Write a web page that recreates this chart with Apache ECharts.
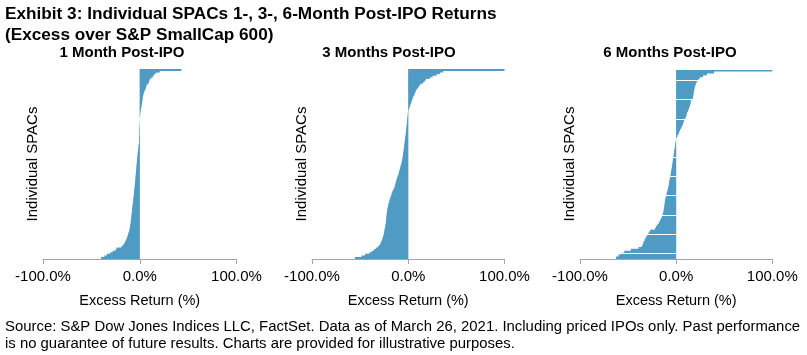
<!DOCTYPE html>
<html>
<head>
<meta charset="utf-8">
<script src="https://cdn.jsdelivr.net/npm/echarts@6/dist/echarts.min.js"></script>
<style>html,body{margin:0;padding:0;background:#fff}#c{width:807px;height:355px}</style>
</head>
<body>
<div id="c"></div>
<script>
// Sorted excess returns (%) per SPAC, ascending (bottom → top)
var oneMonth = [-40,-36.5,-34,-30.5,-28,-25,-24,-19,-17.5,-16.2,-15.2,-14.5,-13.8,-13.1,-12.6,-12.1,-11.6,-11,-10.6,-10.3,
-10,-9.8,-9.5,-9.3,-9.1,-8.9,-8.8,-8.6,-8.4,-8.2,-8.1,-7.9,-7.8,-7.5,-7.3,-7.1,-6.9,-6.7,-6.5,-6.3,
-6.2,-6,-5.8,-5.7,-5.5,-5.3,-5.2,-5,-4.9,-4.7,-4.6,-4.4,-4.3,-4.1,-4,-3.9,-3.7,-3.6,-3.4,-3.3,
-3.1,-3,-2.8,-2.7,-2.5,-2.3,-2.2,-2,-1.8,-1.6,-1.4,-1.3,-1.1,-0.9,-0.8,-0.7,-0.7,-0.6,-0.6,-0.5,
-0.5,-0.5,-0.4,-0.4,-0.3,-0.3,-0.2,-0.1,0,0.1,0.2,0.3,0.5,0.7,1,1.2,1.5,1.8,2.1,2.3,
2.6,2.8,3,3.2,3.6,4.1,4.5,5.2,5.9,6.4,6.9,8,9.3,9.8,10.3,12,13.5,14.8,16.5,20.7,43];
var threeMonths = [-55.5,-48.5,-45,-40.5,-38,-35.5,-33.5,-31.5,-30,-29,-28.2,-27.6,-27,-26.5,-26,-25.4,-25.1,-24.9,-24.6,-24.3,
-24,-23.6,-23.4,-23.2,-23,-22.9,-22.7,-22.5,-22.4,-22.2,-22,-21.7,-21.4,-21,-20.7,-20.3,-19.8,-19.3,-18.8,-18.2,
-17.6,-17.2,-16.6,-15.8,-15,-14.3,-13.8,-13.4,-13,-12.5,-12.1,-11.6,-11,-10.3,-9.8,-9.4,-9,-8.5,-8.1,-7.7,
-7.2,-6.8,-6.4,-6.1,-5.8,-5.6,-5.4,-5.2,-5,-4.7,-4.5,-4.3,-4.1,-3.9,-3.7,-3.5,-3.3,-3.1,-2.8,-2.6,
-2.4,-2.2,-2.1,-1.9,-1.7,-1.6,-1.4,-1.2,-1,-0.9,-0.8,-0.6,-0.5,-0.3,0.3,0.7,1.2,1.7,2.3,2.9,
3.5,4,4.6,5.2,5.9,6.9,7.4,8,9.2,10.4,11.5,12.8,15.6,17,18.3,22.5,25.3,29.4,32.9,36.3,120];
var sixMonths = [-62.5,-60,-57.6,-54,-47,-39,-35.5,-34.5,-34,-33,-32,-31,-29.5,-28.5,-27,-22,-21,-19.5,-18,-17,
-16,-15,-14.2,-13.8,-13.3,-12.9,-12.5,-12.3,-12,-11.8,-11.5,-11,-10.4,-10,-9.7,-9,-8.5,-8,-7.6,-7.3,
-7,-6.6,-6.2,-5.8,-5.5,-5.2,-4.8,-4.5,-4.2,-3.9,-3.6,-3.4,-3,-2.7,-2.4,-2.1,-1.8,-1.5,-1.2,-0.9,
-0.6,-0.3,0.3,0.8,1.4,2.6,3.3,4.2,5.2,6.2,7,7.7,8.3,9.4,10.4,10.9,11.5,12.4,13.2,13.9,
14.5,15,15.3,17.2,17.5,17.8,18.2,18.5,18.8,19.3,19.8,20.5,21.5,23,24.5,28,32,39.5,120];
var panelTitles = ['1 Month Post-IPO', '3 Months Post-IPO', '6 Months Post-IPO'];
var xTicks = [-100, 0, 100];

var FONT = "'Liberation Sans', Arial, Helvetica, sans-serif";
var BAR = '#4f9bc4';
var AX = '#a6a6a6';
var series = [oneMonth, threeMonths, sixMonths];
var grids = [
  {left: 43, top: 69, width: 193.5, height: 190},
  {left: 312, top: 69, width: 192.5, height: 190},
  {left: 580, top: 69, width: 192.3, height: 190}
];
var titleX = [122, 389, 670];

var chart = echarts.init(document.getElementById('c'), null, {renderer: 'canvas'});
var option = {
  animation: false,
  backgroundColor: '#fff',
  grid: grids,
  xAxis: grids.map(function (g, i) {
    return {
      gridIndex: i, type: 'value', min: xTicks[0], max: xTicks[2], interval: 100,
      name: 'Excess Return (%)', nameLocation: 'middle', nameGap: 34,
      nameTextStyle: {fontFamily: FONT, fontSize: 14.5, color: '#000'},
      axisLine: {show: true, lineStyle: {color: AX, width: 1}},
      axisTick: {show: true, length: 5, lineStyle: {color: AX}},
      splitLine: {show: false},
      axisLabel: {fontFamily: FONT, fontSize: 15, color: '#000', margin: 10,
        formatter: function (v) { return v.toFixed(1) + '%'; }},
      z: 4
    };
  }),
  yAxis: grids.map(function (g, i) {
    return {
      gridIndex: i, type: 'category',
      data: series[i].map(function (v, k) { return 'SPAC ' + (k + 1); }),
      name: 'Individual SPACs', nameLocation: 'middle', nameRotate: 90, nameGap: 3,
      nameTextStyle: {fontFamily: FONT, fontSize: 15, color: '#000'},
      axisLine: {show: false}, axisTick: {show: false}, axisLabel: {show: false},
      splitLine: i === 2 ? {show: true, interval: function (idx) { return idx >= 3 && (idx - 3) % 10 === 0; },
        lineStyle: {color: '#fff', width: 1}} : {show: false},
      z: i === 2 ? 3 : 0
    };
  }),
  series: series.map(function (d, i) {
    return {
      type: 'bar', xAxisIndex: i, yAxisIndex: i, data: d,
      barWidth: '160%', itemStyle: {color: BAR}, clip: true, silent: true
    };
  }),
  graphic: [
    {type: 'text', x: 5, y: 14, style: {text: 'Exhibit 3: Individual SPACs 1-, 3-, 6-Month Post-IPO Returns', font: 'bold 17.2px ' + FONT, fill: '#000', verticalAlign: 'middle'}},
    {type: 'text', x: 5, y: 35, style: {text: '(Excess over S&P SmallCap 600)', font: 'bold 17.2px ' + FONT, fill: '#000', verticalAlign: 'middle'}}
  ].concat(panelTitles.map(function (t, i) {
    return {type: 'text', x: titleX[i], y: 53, style: {text: t, font: 'bold 15px ' + FONT, fill: '#000', align: 'center', verticalAlign: 'middle'}};
  })).concat([
    {type: 'text', x: 5, y: 327, style: {text: 'Source: S&P Dow Jones Indices LLC, FactSet. Data as of March 26, 2021. Including priced IPOs only. Past performance', font: '14.9px ' + FONT, fill: '#000', verticalAlign: 'middle'}},
    {type: 'text', x: 5, y: 344, style: {text: 'is no guarantee of future results. Charts are provided for illustrative purposes.', font: '14.9px ' + FONT, fill: '#000', verticalAlign: 'middle'}}
  ])
};
chart.setOption(option);
</script>
</body>
</html>
